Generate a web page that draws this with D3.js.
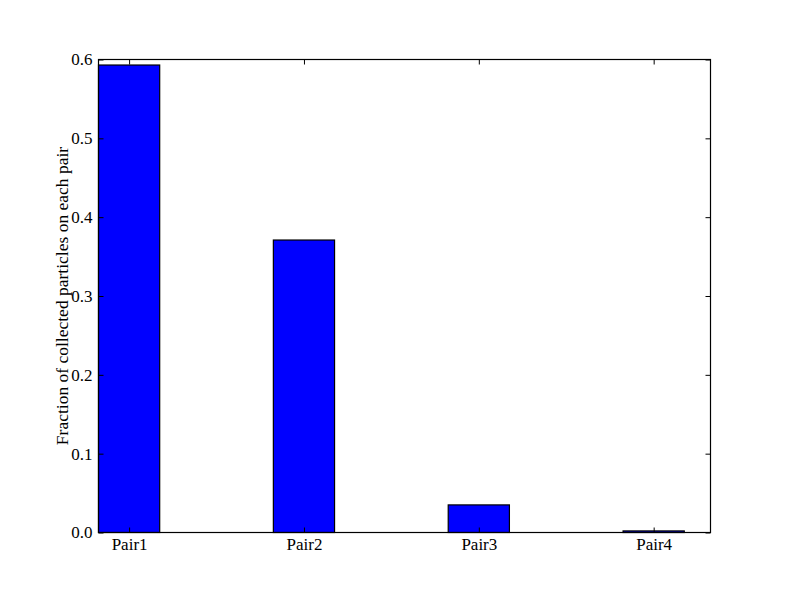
<!DOCTYPE html>
<meta charset="utf-8">
<script src="https://d3js.org/d3.v7.min.js"></script>
<style>
  body { margin: 0; background: #fff; }
  text { font-family: "Liberation Serif", "DejaVu Serif", serif; fill: #000; }
</style>
<div id="chart"></div>
<script>

// data
var pairs = ["Pair1", "Pair2", "Pair3", "Pair4"];
var fractions = [0.593, 0.371, 0.035, 0.002];
var yTicks = [0.0, 0.1, 0.2, 0.3, 0.4, 0.5, 0.6];

var W = 789, H = 592;
var margin = {top: 59.5, right: 78.5, bottom: 59.5, left: 98.5},
    width = W - margin.left - margin.right,
    height = H - margin.top - margin.bottom;

var barW = 0.35;

var svg = d3.select("#chart")
  .append("svg")
    .attr("width", W)
    .attr("height", H)
  .append("g")
    .attr("transform", "translate(" + margin.left + "," + margin.top + ")");

var x = d3.scaleLinear().domain([0, 3.5]).range([0, width]);
var y = d3.scaleLinear().domain([0, 0.6]).range([height, 0]);

// bars
svg.selectAll("rect.bar")
  .data(fractions)
  .enter()
  .append("rect")
    .attr("class", "bar")
    .attr("x", function(d, i) { return x(i); })
    .attr("width", function(d, i) { return x(i + barW) - x(i); })
    .attr("y", function(d) { return y(d); })
    .attr("height", function(d) { return y(0) - y(d); })
    .style("fill", "#0000ff")
    .style("stroke", "#000")
    .style("stroke-width", 1.2);

// ticks inward, all four sides
var tickLen = 5;
var xAx = d3.axisBottom(x)
  .tickValues(pairs.map(function(p, i) { return i + barW / 2; }))
  .tickFormat(function(d, i) { return pairs[i]; })
  .tickSizeInner(-tickLen).tickSizeOuter(0).tickPadding(5);
var gx = svg.append("g").attr("transform", "translate(0," + height + ")").call(xAx);

var xTop = d3.axisTop(x)
  .tickValues(pairs.map(function(p, i) { return i + barW / 2; }))
  .tickFormat("").tickSizeInner(-tickLen).tickSizeOuter(0);
var gxt = svg.append("g").call(xTop);

var yAx = d3.axisLeft(y)
  .tickValues(yTicks)
  .tickFormat(d3.format(".1f"))
  .tickSizeInner(-tickLen).tickSizeOuter(0).tickPadding(6);
var gy = svg.append("g").call(yAx);

var yRight = d3.axisRight(y)
  .tickValues(yTicks).tickFormat("").tickSizeInner(-tickLen).tickSizeOuter(0);
var gyr = svg.append("g").attr("transform", "translate(" + width + ",0)").call(yRight);

[gx, gxt, gy, gyr].forEach(function(g) {
  g.select(".domain").remove();
  g.selectAll("line").style("stroke", "#000").style("stroke-width", 1);
  g.selectAll("text").style("font-size", "17px").style("font-family", "Liberation Serif, serif");
});

// frame
svg.append("rect")
  .attr("width", width)
  .attr("height", height)
  .style("fill", "none")
  .style("stroke", "#000")
  .style("stroke-width", 1.2);

// y label
svg.append("text")
  .attr("transform", "translate(" + (-31) + "," + (height / 2) + ") rotate(-90)")
  .attr("text-anchor", "middle")
  .style("font-size", "17.5px")
  .text("Fraction of collected particles on each pair");

</script>
